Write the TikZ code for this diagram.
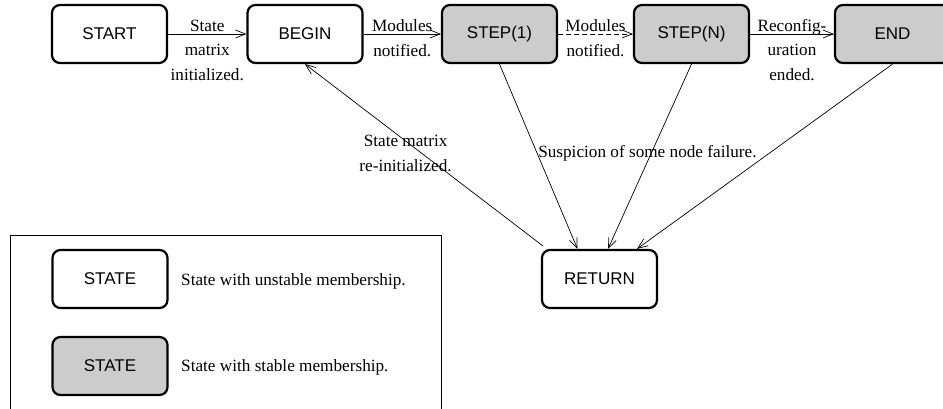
\documentclass[tikz,border=0pt]{standalone}
\usepackage{fontspec}
\setmainfont{Liberation Serif}
\setsansfont{Liberation Sans}
\usetikzlibrary{arrows.meta}

\tikzset{
  state/.style={draw, line width=2.2pt, rounded corners=8pt, minimum width=115pt,
    minimum height=58pt, font=\sffamily\fontsize{17}{25}\selectfont},
  stable/.style={state, fill=black!20},
  trans/.style={-{Straight Barb[length=10pt,width=8pt]}, line width=0.7pt},
  lbl/.style={align=center, inner sep=1pt, font=\fontsize{17.2}{24.5}\selectfont}
}

\begin{document}
\begin{tikzpicture}[x=1pt, y=-1pt]
        \useasboundingbox (0,0) rectangle (943,408);

        % States
        \node[state] (start) at (109.5,34) {START};
        \node[state] (begin) at (305,34) {BEGIN};
        \node[stable] (step1) at (499.5,34) {STEP(1)};
        \node[stable] (stepn) at (691.5,34) {STEP(N)};
        \node[stable] (end) at (892.5,34) {END};
        \node[state] (ret) at (599.5,279) {RETURN};

        % Forward transitions
        \draw[trans] (start) -- (begin) node[lbl, midway, yshift=-16pt] {State\\matrix\\initialized.};
        \draw[trans] (begin) -- (step1) node[lbl, midway, yshift=-4pt] {Modules\\notified.};
        \draw[trans, dash pattern=on 5pt off 3pt] (step1) -- (stepn) node[lbl, midway, yshift=-4pt] {Modules\\notified.};
        \draw[trans] (stepn) -- (end) node[lbl, midway, yshift=-16pt] {Reconfig-\\uration\\ended.};

        % Failure transitions
        \draw[trans] (step1.south) -- ([xshift=-22pt]ret.north) node[lbl, pos=0.48, anchor=west] {Suspicion of some node failure.};
        \draw[trans] (stepn.south) -- ([xshift=8.5pt]ret.north);
        \draw[trans] (end.south) -- ([xshift=37.5pt]ret.north);

        % Back to BEGIN
        \draw[trans] ([shift={(2pt,3pt)}]ret.north west) -- (begin.south) node[lbl, pos=0.51, xshift=-16pt] {State matrix\\re-initialized.};

        % Legend
        \draw[line width=0.7pt] (10,420) -- (10,235) -- (441,235) -- (441,420);
        \node[state] (lstate) at (110,279) {STATE};
        \node[stable] (lstable) at (110,366) {STATE};
        \node[lbl, anchor=west] (lunstable) at (180,281) {State with unstable membership.};
        \node[lbl, anchor=west] (lstabletext) at (180,367) {State with stable membership.};
    \end{tikzpicture}
\end{document}
